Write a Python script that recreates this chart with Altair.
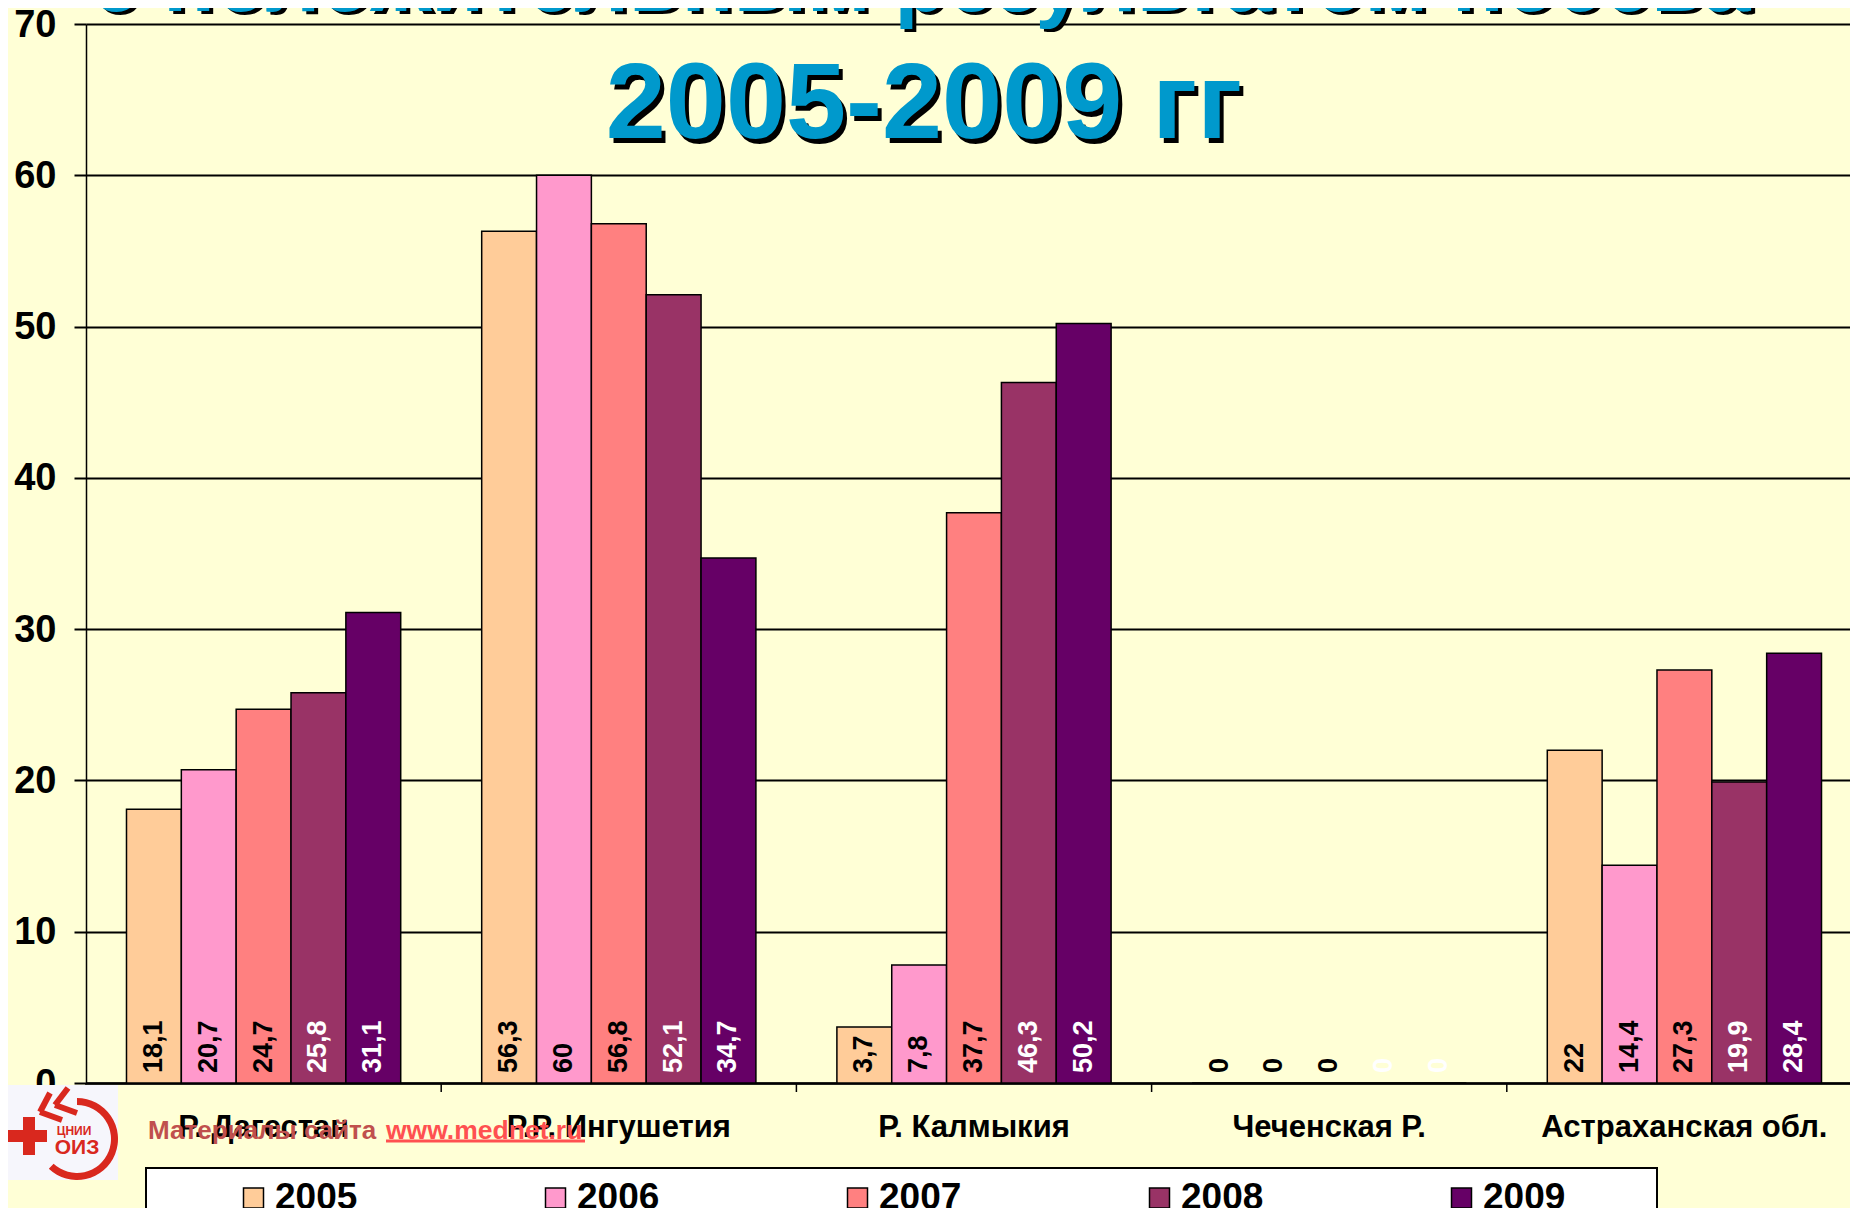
import altair as alt
import pandas as pd

regions = ["Р. Дагестан", "Р.Р. Ингушетия", "Р. Калмыкия", "Чеченская Р.", "Астраханская обл."]
years = ["2005", "2006", "2007", "2008", "2009"]
v2005 = [18.1, 56.3, 3.7, 0, 22]
v2006 = [20.7, 60, 7.8, 0, 14.4]
v2007 = [24.7, 56.8, 37.7, 0, 27.3]
v2008 = [25.8, 52.1, 46.3, 0, 19.9]
v2009 = [31.1, 34.7, 50.2, 0, 28.4]
colors = ["#FFCC99", "#FF99CC", "#FF8080", "#993366", "#660066"]
label_colors = ["#000000", "#000000", "#000000", "#FFFFFF", "#FFFFFF"]
title_top = "с положительным результатом посева"
title_main = "2005-2009 гг"
watermark_a = "Материалы сайта"
watermark_b = "www.mednet.ru"

FONT = "Liberation Sans"
BG = "#FFFFD6"
OX, OY = 86, 24          # plot origin on the page
PW, PH = 1776, 1059      # plot size


def px(v):
    return v - OX


def py(v):
    return v - OY


rows = []
for y, vals in zip(years, [v2005, v2006, v2007, v2008, v2009]):
    for r, v in zip(regions, vals):
        rows.append({"region": r, "year": y, "value": v, "label": f"{v:g}".replace(".", ",")})
df = pd.DataFrame(rows)

x_enc = alt.X(
    "region:N",
    sort=regions,
    title=None,
    scale=alt.Scale(paddingInner=0.228, paddingOuter=0.114),
    axis=alt.Axis(
        labelAngle=0, labelFont=FONT, labelFontSize=31, labelFontWeight="bold", labelColor="#000000",
        labelPadding=29, ticks=False, domainColor="#000000", domainWidth=2.5, labelLimit=400,
    ),
)
xo_enc = alt.XOffset("year:N", sort=years, scale=alt.Scale(paddingInner=0, paddingOuter=0))

bars = alt.Chart(df).mark_bar(stroke="#000000", strokeWidth=1.5).encode(
    x=x_enc,
    xOffset=xo_enc,
    y=alt.Y(
        "value:Q",
        title=None,
        scale=alt.Scale(domain=[0, 70], nice=False),
        axis=alt.Axis(
            values=[0, 10, 20, 30, 40, 50, 60, 70], labelFont=FONT, labelFontSize=38, labelFontWeight="bold",
            labelColor="#000000", labelPadding=18, labelOffset=1, tickSize=12, tickColor="#000000", tickWidth=2,
            grid=True, gridColor="#000000", gridWidth=2, gridOpacity=1,
            domainColor="#000000", domainWidth=1.5,
        ),
    ),
    fill=alt.Fill(
        "year:N",
        sort=years,
        scale=alt.Scale(domain=years, range=colors),
        legend=alt.Legend(
            orient="none", legendX=px(235), legendY=py(1186), direction="horizontal", columns=5,
            title=None, padding=0, symbolType="square", symbolSize=400, symbolStrokeColor="#000000",
            symbolStrokeWidth=1.5, symbolOpacity=1, labelFont=FONT, labelFontSize=37, labelFontWeight="bold",
            labelColor="#000000", labelOffset=3, columnPadding=179, clipHeight=24,
        ),
    ),
)

# category separators: ticks sit between the groups, half a step left of each band centre
separators = alt.Chart(pd.DataFrame({"region": regions})).mark_rule(
    color="#000000", strokeWidth=1.5, xOffset=-177.6
).encode(
    x=alt.X("region:N", sort=regions, title=None),
    y=alt.value(PH),
    y2=alt.value(PH + 9),
)

value_labels = alt.Chart(df).mark_text(
    angle=270, align="left", baseline="middle", dx=10, font=FONT, fontSize=27, fontWeight="bold"
).encode(
    x=x_enc,
    xOffset=xo_enc,
    y=alt.datum(0),
    text="label:N",
    color=alt.Color("year:N", sort=years, scale=alt.Scale(domain=years, range=label_colors), legend=None),
)


def one():
    return alt.Chart(alt.Data(values=[{"a": 1}]))


def text(s, x, y, size, color, **kw):
    return one().mark_text(
        text=s, font=FONT, fontSize=size, fontWeight="bold", color=color, baseline="alphabetic", **kw
    ).encode(x=alt.value(px(x)), y=alt.value(py(y)))


def rect(x1, y1, x2, y2, fill, **kw):
    return one().mark_rect(fill=fill, **kw).encode(
        x=alt.value(px(x1)), x2=alt.value(px(x2)), y=alt.value(py(y1)), y2=alt.value(py(y2))
    )


def line(x1, y1, x2, y2, color, width):
    return one().mark_rule(color=color, strokeWidth=width).encode(
        x=alt.value(px(x1)), x2=alt.value(px(x2)), y=alt.value(py(y1)), y2=alt.value(py(y2))
    )


titles = [
    text(title_top, 925, 14, 86, "#000000", align="center"),
    text(title_top, 921, 11, 86, "#0099CC", align="center"),
    text(title_main, 928, 143, 108, "#000000", align="center"),
    text(title_main, 924, 138, 108, "#0099CC", align="center"),
]

legend_box = rect(146, 1168, 1657, 1240, "#FFFFFF", stroke="#000000", strokeWidth=2)

watermark = [
    text(watermark_a, 148, 1139, 26, "#C0504D", align="left"),
    text(watermark_b, 386, 1139, 26.5, "#FF5050", align="left"),
    line(386, 1141, 585, 1141, "#FF5050", 3),
]

RED = "#D9281E"
logo = [
    rect(8, 1085, 118, 1180, "#F6F6FC"),
    one().mark_arc(
        theta=0, theta2=3.9, innerRadius=34, outerRadius=41, fill=RED
    ).encode(x=alt.value(px(77)), y=alt.value(py(1139))),
    rect(8, 1130, 47, 1142, RED),
    rect(23, 1117, 35, 1155, RED),
    line(50, 1093, 40, 1112, RED, 6),
    line(40, 1112, 62, 1120, RED, 6),
    line(68, 1088, 55, 1105, RED, 6),
    line(55, 1105, 77, 1113, RED, 6),
    text("ЦНИИ", 74, 1135, 12, RED, align="center"),
    text("ОИЗ", 77, 1154, 21, RED, align="center"),
]

chart = alt.layer(bars, separators, value_labels, *titles, legend_box, *watermark, *logo).resolve_scale(
    color="independent"
).properties(
    width=PW,
    height=PH,
    background=BG,
    autosize=alt.AutoSizeParams(type="none"),
    padding={"left": OX - 8, "top": OY - 8, "right": -12, "bottom": 1216 - OY - PH - 8},
).configure_view(stroke=None)

chart.save("out.html", embed_options={"renderer": "svg", "actions": False})
